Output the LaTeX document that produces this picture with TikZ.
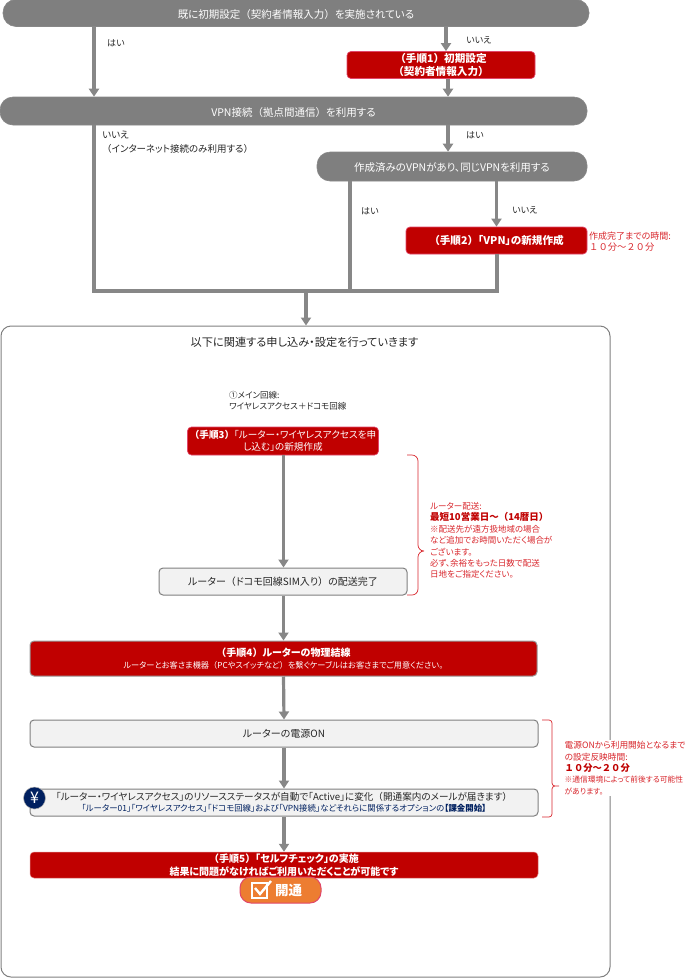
\documentclass[tikz,border=0pt]{standalone}
\usepackage{fontspec}
\setmainfont{Noto Sans CJK JP}[RawFeature={+palt}]
\newfontfamily\fullw{Noto Sans CJK JP}
\newcommand\zl{{\fullw （}}
\newcommand\zr{{\fullw ）}}
\usetikzlibrary{arrows.meta}
\definecolor{flowgray}{HTML}{7F7F7F}
\definecolor{linegray}{HTML}{878787}
\definecolor{stepred}{HTML}{C00000}
\definecolor{steppink}{HTML}{E0476A}
\definecolor{noted}{HTML}{D8262C}
\definecolor{lightbox}{HTML}{F2F2F2}
\definecolor{navy}{HTML}{002060}
\definecolor{openorange}{HTML}{ED7D31}

\begin{document}
\begin{tikzpicture}[x=1pt,y=-1pt]
	\tikzset{every node/.style={inner sep=0pt,align=center}}
	\tikzset{question/.style={fill=flowgray,draw=linegray,line width=.6pt,rounded corners=13pt,text=white,text height=10.5pt,text depth=0pt,font=\fontsize{10.5}{12}\selectfont}}
	\tikzset{stepbox/.style={fill=stepred,draw=steppink,line width=.7pt,rounded corners=4pt,text=white,font=\fontsize{10.6}{12.5}\selectfont\bfseries}}
	\tikzset{plainbox/.style={fill=lightbox,draw=flowgray,line width=1pt,rounded corners=4pt,text=black!85,font=\fontsize{10}{12}\selectfont}}
	\tikzset{answer/.style={anchor=west,text=black!85,font=\fontsize{9}{14}\selectfont,align=left}}
	\tikzset{rednote/.style={anchor=west,text=noted,align=left,font=\fontsize{8.5}{11.4}\selectfont}}
	\tikzset{flow/.style={draw=linegray,line width=3.2pt}}
	\tikzset{flowarrow/.style={flow,-{Triangle[length=8pt,width=10pt]}}}
	\tikzset{notebrace/.style={draw=noted,line width=.7pt,rounded corners=6pt}}
	\useasboundingbox (0,0) rectangle (697,978);

	\node[draw=flowgray,line width=1pt,rounded corners=10pt,minimum width=609pt,minimum height=651pt] (frame) at (305.5,651.5) {};
	\node[anchor=center,text=black!85,font=\fontsize{11.2}{12}\selectfont] (title) at (304.5,342) {以下に関連する申し込み・設定を行っていきます};

	\node[question,minimum width=586pt,minimum height=27pt] (initial) at (296,13) {既に初期設定\zl 契約者情報入力\zr を実施されている};
	\node[question,minimum width=587pt,minimum height=28pt] (vpnuse) at (293.5,111) {VPN接続\zl 拠点間通信\zr を利用する};
	\node[question,minimum width=270pt,minimum height=29pt] (vpnsame) at (452,166.5) {作成済みのVPNがあり、同じVPNを利用する};
	\node[stepbox,minimum width=188pt,minimum height=27pt] (stepone) at (441,65) {\zl 手順1\zr 初期設定\\\zl 契約者情報入力\zr};
	\node[stepbox,minimum width=181pt,minimum height=27pt] (steptwo) at (496.5,240.5) {\zl 手順2\zr 「VPN」の新規作成};
	\node[stepbox,minimum width=191pt,minimum height=28pt,font=\fontsize{9.6}{12.5}\selectfont] (stepthree) at (283,441) {\textbf{\zl 手順3\zr}「ルーター・ワイヤレスアクセスを申\\し込む」の新規作成};
	\node[plainbox,minimum width=248pt,minimum height=27pt] (delivered) at (283,581.5) {ルーター\zl ドコモ回線SIM入り\zr の配送完了};
	\node[stepbox,draw=flowgray!80,line width=1pt,minimum width=507pt,minimum height=35pt,font=\fontsize{10}{12.5}\selectfont] (stepfour) at (283.5,658.5) {\textbf{\zl 手順4\zr ルーターの物理結線}\\{\fontsize{8.2}{10}\selectfont ルーターとお客さま機器\zl PCやスイッチなど\zr を繋ぐケーブルはお客さまでご用意ください。}};
	\node[plainbox,minimum width=508pt,minimum height=27pt] (poweron) at (284,733.5) {ルーターの電源ON};
	\node[plainbox,minimum width=508pt,minimum height=27pt,font=\fontsize{9.6}{11.5}\selectfont] (active) at (284,802.5) {「ルーター・ワイヤレスアクセス」のリソースステータスが自動で「Active」に変化\zl 開通案内のメールが届きます\zr\\{\fontsize{8.4}{10}\selectfont\color{navy}「ルーター01」「ワイヤレスアクセス」「ドコモ回線」および「VPN接続」などそれらに関係するオプションの\textbf{【課金開始】}}};
	\node[stepbox,draw=stepred!50,line width=.5pt,minimum width=508pt,minimum height=26pt,font=\fontsize{10}{12.5}\selectfont\bfseries] (stepfive) at (284,865) {\zl 手順5\zr 「セルフチェック」の実施\\結果に問題がなければご利用いただくことが可能です};
	\node[fill=openorange,draw=steppink,line width=1pt,rounded corners=11pt,minimum width=81pt,minimum height=26pt] (opened) at (280.5,890) {};
	\node[text=white,font=\fontsize{13.5}{14}\selectfont\bfseries] (openedtext) at (288.5,890.5) {開通};
	\node[circle,fill=navy,draw=flowgray!60,line width=.5pt,minimum size=22pt,text=white,font=\fontsize{16}{16}\selectfont] (yen) at (34.5,798) {¥};

	\draw[white,line width=1.8pt] (252,883) rectangle (267,898);
	\draw[white,line width=2.4pt] (255,888) -- (260,894) -- (271,881);

	\coordinate (yesone) at (94,26);
	\coordinate (noone) at (446,26);
	\coordinate (backone) at (448,79);
	\coordinate (yestwo) at (448,125);
	\coordinate (notwo) at (94,125);
	\coordinate (yesthree) at (350,181);
	\coordinate (nothree) at (496.5,181);
	\coordinate (joinleft) at (94,291);
	\coordinate (joinright) at (497,291);
	\coordinate (joinmid) at (306,291);

	\draw[flowarrow] (yesone) -- (yesone |- vpnuse.north);
	\draw[flowarrow] (noone) -- (noone |- stepone.north);
	\draw[flowarrow] (backone) -- (backone |- vpnuse.north);
	\draw[flowarrow] (yestwo) -- (yestwo |- vpnsame.north);
	\draw[flowarrow] (nothree) -- (nothree |- steptwo.north);
	\draw[flow] (notwo) -- (joinleft) -- (joinright) -- (joinright |- steptwo.south);
	\draw[flow] (yesthree) -- (yesthree |- joinleft);
	\draw[flowarrow] (joinmid) -- (joinmid |- frame.north);
	\draw[flowarrow] (stepthree.south -| stepfour.south) -- (delivered.north -| stepfour.north);
	\draw[flowarrow] (delivered.south -| stepfour.south) -- (stepfour.north);
	\draw[flowarrow] (stepfour.south) -- (poweron.north);
	\draw[flowarrow] (poweron.south) -- (active.north);
	\draw[flowarrow] (active.south) -- (stepfive.north);

	\draw[notebrace] (407,455) -- (418,455) -- (418,551) -- (427,551) -- (418,551) -- (418,595) -- (407,595);
	\draw[notebrace,rounded corners=3pt] (542,720) -- (552,720) -- (552,786) -- (561,786) -- (552,786) -- (552,817) -- (542,817);

	\node[answer] (yesa) at (107,43) {はい};
	\node[answer] (noa) at (466,40.5) {いいえ};
	\node[answer] (yesb) at (466,135.5) {はい};
	\node[answer,font=\fontsize{9.5}{14}\selectfont] (nob) at (102,142) {いいえ\\\zl インターネット接続のみ利用する\zr};
	\node[answer] (yesc) at (361,211.5) {はい};
	\node[answer] (noc) at (512,210.5) {いいえ};
	\node[answer,font=\fontsize{8.5}{11}\selectfont] (mainline) at (229,401) {①メイン回線:\\ワイヤレスアクセス＋ドコモ回線};

	\node[rednote,font=\fontsize{9}{11.4}\selectfont] (vpntime) at (589,241.5) {作成完了までの時間:\\{\fullw\fontsize{9.3}{11.4}\selectfont １０分～２０分}};
	\node[rednote] (shipnote) at (430,540.5) {ルーター配送:\\{\fontsize{9.5}{11.4}\selectfont\bfseries\color{stepred}最短10営業日{\fullw ～}\zl 14暦日\zr}\\※配送先が遠方扱地域の場合\\など追加でお時間いただく場合が\\ございます。\\必ず、余裕をもった日数で配送\\日地をご指定ください。};
	\node[rednote,fill=white,inner sep=1.5pt,font=\fontsize{8.7}{11.4}\selectfont] (powernote) at (563,768) {電源ONから利用開始となるまで\\の設定反映時間:\\{\fullw\fontsize{9.3}{11.4}\selectfont\bfseries\color{stepred}１０分～２０分}\\{\fontsize{7.75}{9.5}\selectfont ※通信環境によって前後する可能性}\\{\fontsize{7.75}{9.5}\selectfont があります。}};
\end{tikzpicture}
\end{document}
